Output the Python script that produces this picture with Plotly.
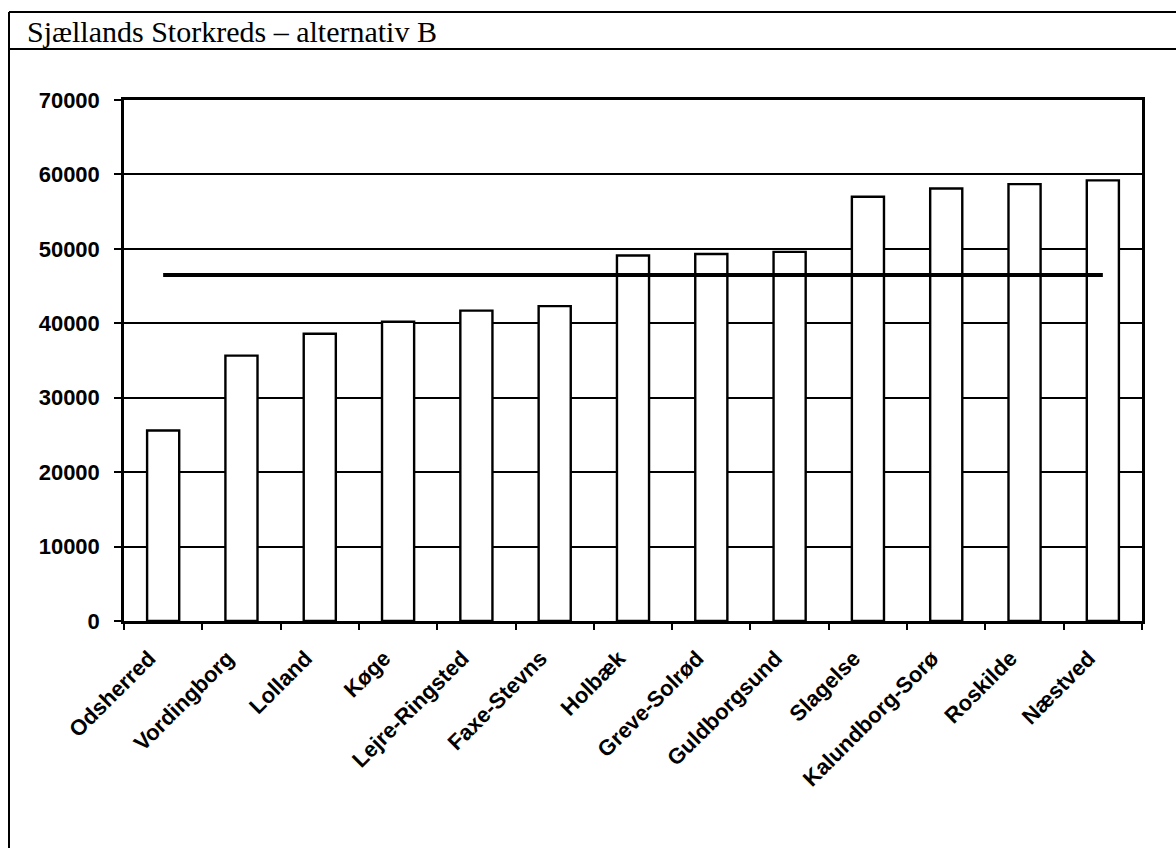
import plotly.graph_objects as go

categories = ["Odsherred", "Vordingborg", "Lolland", "Køge", "Lejre-Ringsted",
              "Faxe-Stevns", "Holbæk", "Greve-Solrød", "Guldborgsund", "Slagelse",
              "Kalundborg-Sorø", "Roskilde", "Næstved"]
values = [25600, 35650, 38600, 40200, 41700, 42300, 49100, 49300, 49600,
          57000, 58100, 58700, 59200]
average = 46500
y_ticks = [0, 10000, 20000, 30000, 40000, 50000, 60000, 70000]
title_text = "Sjællands Storkreds – alternativ B"

W, H = 1176, 848
L, R, T, B = 124, 34, 100, 227
PW, PH = W - L - R, H - T - B


def px(x):
    return (x - L) / PW


def py(y):
    return (H - B - y) / PH


fig = go.Figure()
fig.add_trace(go.Bar(
    x=categories, y=values,
    marker=dict(color="white", line=dict(color="black", width=2.4)),
    showlegend=False, hoverinfo="skip",
))
fig.add_trace(go.Scatter(
    x=categories, y=[average] * len(categories), mode="lines",
    line=dict(color="black", width=4), showlegend=False, hoverinfo="skip",
))

tick_font = dict(family="Liberation Sans, Arial", size=22, color="black", weight="bold")

fig.update_layout(
    width=W, height=H,
    margin=dict(l=L, r=R, t=T, b=B, autoexpand=False),
    paper_bgcolor="white", plot_bgcolor="white",
    bargap=0.59,
    xaxis=dict(
        type="category", tickangle=-45, tickfont=tick_font,
        showline=True, linecolor="black", linewidth=2.5,
        ticks="outside", tickson="boundaries", ticklen=6, tickwidth=2, tickcolor="black",
        showgrid=False, mirror=True, ticklabelstandoff=13, ticklabelshift=-14,
    ),
    yaxis=dict(
        range=[0, 70000], tickvals=y_ticks, ticktext=[str(v) for v in y_ticks],
        tickfont=tick_font,
        showline=True, linecolor="black", linewidth=2.5, mirror=True,
        ticks="outside", ticklen=7, tickwidth=2, tickcolor="black",
        showgrid=True, gridcolor="black", gridwidth=2,
        ticklabelstandoff=10, zeroline=False,
    ),
    shapes=[
        dict(type="line", xref="paper", yref="paper", x0=px(9), x1=px(1176),
             y0=py(12), y1=py(12), line=dict(color="black", width=2)),
        dict(type="line", xref="paper", yref="paper", x0=px(9), x1=px(1176),
             y0=py(49), y1=py(49), line=dict(color="black", width=2)),
        dict(type="line", xref="paper", yref="paper", x0=px(9), x1=px(9),
             y0=py(12), y1=py(848), line=dict(color="black", width=2)),
    ],
    annotations=[
        dict(text=title_text, xref="paper", yref="paper", x=px(25), y=py(31),
             xanchor="left", yanchor="middle", showarrow=False,
             font=dict(family="Liberation Serif, Times New Roman", size=30, color="black")),
    ],
)

fig.write_html("out.html", config={"displayModeBar": False},
               post_script="document.body.style.margin='0px';")
